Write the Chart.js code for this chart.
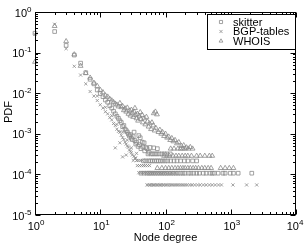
<!DOCTYPE html>
<html>
<head>
<meta charset="utf-8">
<script src="https://cdn.jsdelivr.net/npm/chart.js@4.4.1/dist/chart.umd.min.js"></script>
<style>
  html, body { margin: 0; padding: 0; background: #fff; }
  #wrap { position: relative; width: 305px; height: 244px; }
</style>
</head>
<body>
<div id="wrap"><canvas id="chart" width="305" height="244"></canvas></div>
<script>
// values (degree, PDF)
const skitterDegree = [1, 2, 3, 4, 5, 6, 7, 8, 9, 10, 11, 12, 13, 14, 15, 16, 17, 18, 19, 20,
  21, 22, 23, 24, 25, 26, 27, 28, 29, 30, 31, 32, 33, 34, 35, 36, 38, 39, 40, 41, 42, 44, 45, 47,
  48, 50, 52, 56, 58, 66, 75,
  54, 60, 64, 69, 74, 80, 88, 96, 105, 118,
  46, 50, 55, 59, 63, 68, 73, 78, 84, 91, 99, 108, 120, 135, 150, 170, 195, 220, 260, 300,
  42, 47, 52, 56, 60, 65, 70, 76, 82, 89, 96, 104, 112, 122, 132, 144, 156, 170, 185, 200, 225,
  245, 270, 300, 330, 380, 420, 480, 520, 560, 640, 760, 820, 980, 1100, 1300, 2100];
const skitterPdf = [0.3, 0.33, 0.15, 0.087, 0.055, 0.032, 0.022, 0.017, 0.012, 0.0098, 0.0082,
  0.0068, 0.006, 0.0049, 0.0043, 0.0036, 0.0031, 0.0027, 0.0024, 0.0021,
  0.0019, 0.0015, 0.0016, 0.0013, 0.0012, 0.0011, 0.00098, 0.00088, 0.00095, 0.00078, 0.00072,
  0.00085, 0.0011, 0.00068, 0.00056, 0.00062, 0.00049, 0.0009, 0.00054, 0.0008, 0.00043, 0.00062,
  0.00047, 0.0006, 0.00038, 0.00046, 0.00043, 0.00035, 0.00046, 0.00045, 0.00043,
  0.00032, 0.00032, 0.00032, 0.00032, 0.00032, 0.00032, 0.00032, 0.00032, 0.00032, 0.00032,
  0.000215, 0.000215, 0.000215, 0.000215, 0.000215, 0.000215, 0.000215, 0.000215, 0.000215,
  0.000215, 0.000215, 0.000215, 0.000215, 0.000215, 0.000215, 0.000215, 0.000215, 0.000215,
  0.000215, 0.000215,
  0.000107, 0.000107, 0.000107, 0.000107, 0.000107, 0.000107, 0.000107, 0.000107, 0.000107,
  0.000107, 0.000107, 0.000107, 0.000107, 0.000107, 0.000107, 0.000107, 0.000107, 0.000107,
  0.000107, 0.000107, 0.000107, 0.000107, 0.000107, 0.000107, 0.000107, 0.000107, 0.000107,
  0.000107, 0.000107, 0.000107, 0.000107, 0.000107, 0.000107, 0.000107, 0.000107, 0.000107,
  0.000107];

const bgpDegree = [1, 2, 3, 4, 5, 6, 7, 8, 9, 10, 11, 12, 13, 14, 15, 16, 17, 18, 19, 20, 21,
  22, 23, 24, 25, 26, 27, 28, 29, 30, 31, 33, 35,
  9, 12, 15, 18, 22, 26, 30, 36, 17, 20, 22, 25, 34,
  32, 36, 38, 41, 44,
  37, 40, 43, 46, 49, 53, 57,
  39, 42, 45, 48, 51, 55, 59, 63, 67, 72, 78, 84, 92, 100, 110, 125, 140,
  52, 55, 58, 61, 64, 67, 70, 74, 78, 82, 86, 91, 96, 102, 108, 115, 122, 130, 140, 150, 160,
  172, 185, 200, 215, 235, 255, 280, 310, 340, 380, 420, 470, 520, 580, 650, 720, 1080, 1750, 2500];
const bgpPdf = [0.28, 0.5, 0.125, 0.046, 0.028, 0.017, 0.011, 0.0085, 0.0066, 0.0052, 0.0043,
  0.0035, 0.0031, 0.0025, 0.0022, 0.0018, 0.0016, 0.0013, 0.00115, 0.0011, 0.00092,
  0.0008, 0.00072, 0.00062, 0.00056, 0.0005, 0.00047, 0.0004, 0.00037, 0.00034, 0.0003, 0.00028, 0.00025,
  0.0085, 0.0045, 0.0028, 0.0017, 0.0011, 0.0007, 0.00045, 0.00033, 0.00045, 0.0006, 0.00027, 0.0003, 0.00025,
  0.00022, 0.00022, 0.00022, 0.00022, 0.00022,
  0.000165, 0.000165, 0.000165, 0.000165, 0.000165, 0.000165, 0.000165,
  0.00011, 0.00011, 0.00011, 0.00011, 0.00011, 0.00011, 0.00011, 0.00011, 0.00011, 0.00011,
  0.00011, 0.00011, 0.00011, 0.00011, 0.00011, 0.00011, 0.00011,
  0.000055, 0.000055, 0.000055, 0.000055, 0.000055, 0.000055, 0.000055, 0.000055, 0.000055,
  0.000055, 0.000055, 0.000055, 0.000055, 0.000055, 0.000055, 0.000055, 0.000055, 0.000055,
  0.000055, 0.000055, 0.000055, 0.000055, 0.000055, 0.000055, 0.000055, 0.000055, 0.000055,
  0.000055, 0.000055, 0.000055, 0.000055, 0.000055, 0.000055, 0.000055, 0.000055, 0.000055,
  0.000055, 0.000055, 0.000055, 0.000055];

const whoisDegree = [1, 2, 3, 4, 5, 6, 7, 8, 9, 10, 11, 12, 13, 14, 15, 16, 17, 18, 19, 20,
  21, 22, 23, 24, 25, 26, 27, 28, 29, 30, 31, 32, 33, 34, 35, 36, 37, 38, 40, 41, 42, 44, 45, 47,
  49, 51, 53, 55, 57, 60, 62, 65, 66, 68, 70, 71, 74, 78, 82, 86, 90, 95, 100, 106, 112, 118,
  125, 132, 140, 150, 160, 175, 190, 210, 240,
  120, 135, 155, 170, 185, 200, 225, 260,
  95, 105, 115, 130, 145, 160, 180, 200, 220, 250, 300, 340, 400, 470, 520,
  75, 88, 100, 112, 125, 140, 155, 170, 185, 200, 220, 240, 265, 290, 320, 360, 400, 450, 500,
  700, 820, 950, 1100];
const whoisPdf = [0.059, 0.45, 0.19, 0.09, 0.047, 0.031, 0.024, 0.018, 0.015, 0.012, 0.0105,
  0.0088, 0.0082, 0.0072, 0.0066, 0.006, 0.0055, 0.0052, 0.0047, 0.0057,
  0.0045, 0.0048, 0.0038, 0.0042, 0.0035, 0.0044, 0.0031, 0.0037, 0.0028, 0.0039, 0.0033, 0.0026,
  0.0035, 0.0043, 0.0029, 0.0024, 0.0031, 0.0021, 0.0027, 0.0034, 0.0023, 0.0029, 0.0019, 0.0024,
  0.0017, 0.0026, 0.002, 0.0015, 0.0018, 0.0013, 0.0019, 0.0016, 0.0032, 0.0012, 0.0035, 0.0014,
  0.003, 0.0011, 0.00125, 0.001, 0.0011, 0.00088, 0.001, 0.0008, 0.00085, 0.0007,
  0.00078, 0.00065, 0.0007, 0.00058, 0.00062, 0.0005, 0.00052, 0.00046, 0.00047,
  0.00043, 0.00043, 0.00043, 0.00043, 0.00043, 0.00043, 0.00043, 0.00043,
  0.000286, 0.000286, 0.000286, 0.000286, 0.000286, 0.000286, 0.000286, 0.000286, 0.000286,
  0.000286, 0.000286, 0.000286, 0.000286, 0.000286, 0.000286,
  0.000143, 0.000143, 0.000143, 0.000143, 0.000143, 0.000143, 0.000143, 0.000143, 0.000143,
  0.000143, 0.000143, 0.000143, 0.000143, 0.000143, 0.000143, 0.000143, 0.000143, 0.000143,
  0.000143, 0.000143, 0.000143, 0.000143, 0.000143];

const seriesLabels = ['skitter', 'BGP-tables', 'WHOIS'];
const xDecades = [0, 1, 2, 3, 4];
const yDecades = [0, -1, -2, -3, -4, -5];

const FONT = '"Liberation Sans", Arial, Helvetica, sans-serif';
const MARK = '#8a8a8a';

function points(xs, ys) {
  return xs.map((v, i) => ({ x: v, y: ys[i] }));
}

// draws "10" with a raised exponent; anchor is right edge or centre
function drawPow(ctx, exp, ax, baseline, align) {
  ctx.font = '11px ' + FONT;
  const wBase = ctx.measureText('10').width;
  ctx.font = '8px ' + FONT;
  const wExp = ctx.measureText(String(exp)).width;
  const total = wBase + wExp;
  const left = align === 'right' ? ax - total : ax - total / 2;
  ctx.textAlign = 'left';
  ctx.textBaseline = 'alphabetic';
  ctx.font = '11px ' + FONT;
  ctx.fillText('10', left, baseline);
  ctx.font = '8px ' + FONT;
  ctx.fillText(String(exp), left + wBase, baseline - 5);
}

const framePlugin = {
  id: 'frame',
  afterDraw(chart) {
    const { ctx, chartArea: a, scales: { x, y } } = chart;
    const L = Math.round(a.left) + 0.5, R = Math.round(a.right) - 0.5;
    const T = Math.round(a.top) + 0.5, B = Math.round(a.bottom) - 0.5;
    ctx.save();
    ctx.strokeStyle = '#000';
    ctx.fillStyle = '#000';
    ctx.lineWidth = 1;
    ctx.strokeRect(L, T, R - L, B - T);

    // inward tick marks on all four sides
    ctx.beginPath();
    xDecades.forEach(e => {
      for (let m = 1; m <= (e < 4 ? 9 : 1); m++) {
        const px = Math.round(x.getPixelForValue(m * Math.pow(10, e))) + 0.5;
        const len = m === 1 ? 5 : 2.5;
        ctx.moveTo(px, B); ctx.lineTo(px, B - len);
        ctx.moveTo(px, T); ctx.lineTo(px, T + len);
      }
    });
    yDecades.forEach(e => {
      for (let m = 1; m <= (e < 0 ? 9 : 1); m++) {
        const py = Math.round(y.getPixelForValue(m * Math.pow(10, e))) + 0.5;
        const len = m === 1 ? 5 : 2.5;
        ctx.moveTo(L, py); ctx.lineTo(L + len, py);
        ctx.moveTo(R, py); ctx.lineTo(R - len, py);
      }
    });
    ctx.stroke();

    // tick labels
    xDecades.forEach(e => drawPow(ctx, e, Math.min(x.getPixelForValue(Math.pow(10, e)) + 1, 295), 230, 'center'));
    yDecades.forEach(e => drawPow(ctx, e, 31.5, y.getPixelForValue(Math.pow(10, e)) + 4.5, 'right'));

    // axis titles
    ctx.font = '11px ' + FONT;
    ctx.textAlign = 'center';
    ctx.textBaseline = 'alphabetic';
    ctx.fillText('Node degree', (a.left + a.right) / 2, 241);
    ctx.save();
    ctx.translate(12, 112);
    ctx.rotate(-Math.PI / 2);
    ctx.fillText('PDF', 0, 0);
    ctx.restore();

    // legend box in the top right corner
    const bx = 207.5, by = 14.5, bw = 88, bh = 35;
    ctx.fillStyle = '#fff';
    ctx.fillRect(bx, by, bw, bh);
    ctx.strokeStyle = '#000';
    ctx.strokeRect(bx, by, bw, bh);
    chart.data.datasets.forEach((ds, i) => {
      const cy = 22 + i * 9.5;
      ctx.strokeStyle = ds.borderColor;
      ctx.fillStyle = 'rgba(0,0,0,0)';
      ctx.lineWidth = 0.8;
      Chart.helpers.drawPoint(ctx, { pointStyle: ds.pointStyle, radius: 2.2, borderWidth: 0.8 }, 221, cy);
      ctx.fillStyle = '#000';
      ctx.font = '11px ' + FONT;
      ctx.textAlign = 'left';
      ctx.textBaseline = 'middle';
      ctx.fillText(ds.label, 233, cy + 0.5);
    });
    ctx.restore();
  }
};

new Chart(document.getElementById('chart'), {
  type: 'scatter',
  data: {
    datasets: [
      {
        label: seriesLabels[0],
        data: points(skitterDegree, skitterPdf),
        pointStyle: 'rect',
        pointRadius: 2.6,
        borderColor: MARK,
        backgroundColor: 'rgba(0,0,0,0)',
        borderWidth: 0.8,
        clip: false
      },
      {
        label: seriesLabels[1],
        data: points(bgpDegree, bgpPdf),
        pointStyle: 'crossRot',
        pointRadius: 2.2,
        borderColor: MARK,
        backgroundColor: 'rgba(0,0,0,0)',
        borderWidth: 0.8,
        clip: false
      },
      {
        label: seriesLabels[2],
        data: points(whoisDegree, whoisPdf),
        pointStyle: 'triangle',
        pointRadius: 2.8,
        borderColor: MARK,
        backgroundColor: 'rgba(0,0,0,0)',
        borderWidth: 0.8,
        clip: false
      }
    ]
  },
  options: {
    responsive: false,
    animation: false,
    devicePixelRatio: 1,
    layout: { padding: { left: 35, right: 9, top: 12, bottom: 29 } },
    plugins: { legend: { display: false }, tooltip: { enabled: false } },
    elements: { point: { hoverRadius: 3 } },
    scales: {
      x: { type: 'logarithmic', min: 1, max: 10000, display: false },
      y: { type: 'logarithmic', min: 1e-5, max: 1, display: false }
    }
  },
  plugins: [framePlugin]
});
</script>
</body>
</html>
